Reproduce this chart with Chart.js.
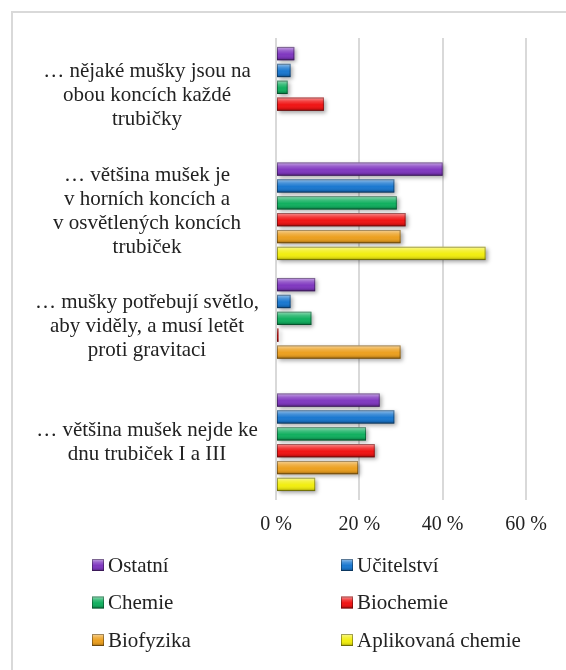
<!DOCTYPE html>
<html><head><meta charset="utf-8">
<script src="https://cdn.jsdelivr.net/npm/chart.js@4/dist/chart.umd.min.js"></script>
<style>
html,body{margin:0;padding:0;background:#fff;}
#wrap{position:relative;width:566px;height:670px;overflow:hidden;}
#frame{position:absolute;left:11px;top:11px;width:700px;height:800px;border-left:2px solid #d9d9d9;border-top:2px solid #d9d9d9;}
canvas{position:absolute;left:0;top:0;}
</style></head>
<body>
<div id="wrap"><div id="frame"></div><canvas id="c" width="566" height="670"></canvas></div>
<script>
// ---- data ----
const categories = [
  ["… nějaké mušky jsou na", "obou koncích každé", "trubičky"],
  ["… většina mušek je", "v horních koncích a", "v osvětlených koncích", "trubiček"],
  ["… mušky potřebují světlo,", "aby viděly, a musí letět", "proti gravitaci"],
  ["… většina mušek nejde ke", "dnu trubiček I a III"]
];
const seriesNames = ["Ostatní", "Učitelství", "Chemie", "Biochemie", "Biofyzika", "Aplikovaná chemie"];
const ostatni    = [4.4, 40.0, 9.4, 24.9];
const ucitelstvi = [3.5, 28.4, 3.5, 28.4];
const chemie     = [2.8, 29.0, 8.5, 21.6];
const biochemie  = [11.5, 31.1, 0.6, 23.7];
const biofyzika  = [0, 29.9, 29.9, 19.7];
const aplikovana = [0, 50.3, 0, 9.4];
const xTicks = [0, 20, 40, 60];

const seriesValues = [ostatni, ucitelstvi, chemie, biochemie, biofyzika, aplikovana];
const seriesColors = ["#8038c0", "#1a78d0", "#12b060", "#f01414", "#eca020", "#f2ee10"];

const FONT = '"Liberation Serif", "Times New Roman", serif';

function bevel(ctx, x0, x1, yTop, h) {
  const left = Math.min(x0, x1), w = Math.abs(x1 - x0);
  if (w < 0.5) return;
  const g = ctx.createLinearGradient(0, yTop, 0, yTop + h);
  g.addColorStop(0, 'rgba(255,255,255,0.55)');
  g.addColorStop(0.3, 'rgba(255,255,255,0.18)');
  g.addColorStop(0.55, 'rgba(255,255,255,0)');
  g.addColorStop(0.8, 'rgba(0,0,0,0.08)');
  g.addColorStop(1, 'rgba(0,0,0,0.35)');
  ctx.fillStyle = g;
  ctx.fillRect(left, yTop, w, h);
  ctx.strokeStyle = 'rgba(0,0,0,0.35)';
  ctx.lineWidth = 1;
  ctx.strokeRect(left + 0.5, yTop + 0.5, w - 1, h - 1);
}

const bevelPlugin = {
  id: 'bevel',
  beforeDatasetsDraw(chart) {
    const ctx = chart.ctx;
    ctx.save();
    ctx.shadowColor = 'rgba(0,0,0,0.35)';
    ctx.shadowBlur = 4;
    ctx.shadowOffsetX = 2;
    ctx.shadowOffsetY = 2;
  },
  afterDatasetsDraw(chart) {
    const ctx = chart.ctx;
    ctx.restore();
    ctx.save();
    chart.data.datasets.forEach((ds, i) => {
      chart.getDatasetMeta(i).data.forEach(el => {
        const p = el.getProps(['x', 'y', 'base', 'height'], true);
        bevel(ctx, p.base, p.x, p.y - p.height / 2, p.height);
      });
    });
    ctx.restore();
  }
};

const legendPlugin = {
  id: 'gridLegend',
  afterDraw(chart) {
    const ctx = chart.ctx;
    ctx.save();
    ctx.font = '21px ' + FONT;
    ctx.textBaseline = 'middle';
    chart.data.datasets.forEach((ds, i) => {
      const col = i % 2, row = Math.floor(i / 2);
      const bx = col ? 341 : 92;
      const y = 565 + row * 37.5;
      ctx.fillStyle = ds.backgroundColor;
      ctx.fillRect(bx, y - 6, 12, 12);
      bevel(ctx, bx, bx + 12, y - 6, 12);
      ctx.fillStyle = '#222';
      ctx.fillText(ds.label, bx + 16, y + 1);
    });
    ctx.restore();
  }
};

new Chart(document.getElementById('c'), {
  type: 'bar',
  data: {
    labels: categories,
    datasets: seriesNames.map((name, i) => ({
      label: name,
      data: seriesValues[i],
      backgroundColor: seriesColors[i],
      borderWidth: 0,
      categoryPercentage: 0.876,
      barPercentage: 0.79
    }))
  },
  options: {
    indexAxis: 'y',
    responsive: false,
    animation: false,
    layout: { padding: { top: 38, right: 40, bottom: 120, left: 0 } },
    plugins: { legend: { display: false }, tooltip: { enabled: false } },
    scales: {
      x: {
        min: 0, max: 60,
        afterBuildTicks: axis => { axis.ticks = xTicks.map(v => ({ value: v })); },
        ticks: {
          callback: v => v + ' %',
          font: { family: FONT, size: 20 },
          color: '#222',
          padding: 13,
          maxRotation: 0
        },
        grid: { color: '#d9d9d9', lineWidth: 2, drawTicks: false },
        border: { display: false }
      },
      y: {
        afterFit: axis => { axis.width = 276; axis.paddingTop = 0; axis.paddingBottom = 0; },
        ticks: {
          font: { family: FONT, size: 21, lineHeight: 1.15 },
          color: '#222',
          crossAlign: 'center',
          padding: 17
        },
        grid: { display: false, drawTicks: false },
        border: { display: false }
      }
    }
  },
  plugins: [bevelPlugin, legendPlugin]
});
</script>
</body></html>
